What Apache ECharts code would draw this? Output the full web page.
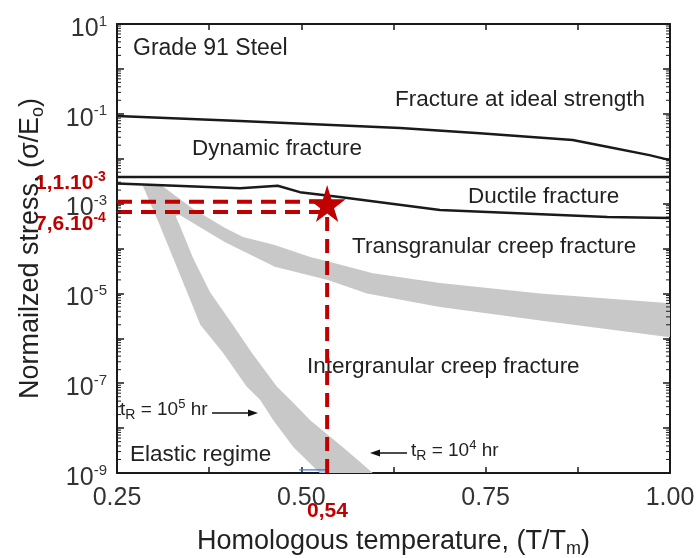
<!DOCTYPE html>
<html><head><meta charset="utf-8">
<script src="https://cdn.jsdelivr.net/npm/echarts@6/dist/echarts.min.js"></script>
<style>html,body{margin:0;padding:0;background:#fff}#c{width:699px;height:558px}</style>
</head><body><div id="c"></div>
<script>
// ---- tick labels ----
const xTickLabels = ['0.25', '0.50', '0.75', '1.00'];
const yTickExponents = [1, -1, -3, -5, -7, -9];

// ---- boundary lines (T/Tm, sigma/Eo) ----
const idealT = [0.25, 0.417, 0.634, 0.742, 0.868, 0.918, 0.972, 1.0];
const idealS = [8.9e-2, 6.9e-2, 4.8e-2, 3.7e-2, 2.6e-2, 1.8e-2, 1.2e-2, 9.3e-3];

const dynamicT = [0.25, 1.0];
const dynamicS = [3.9e-3, 3.9e-3];

const ductileT = [0.25, 0.417, 0.468, 0.498, 0.552, 0.688, 0.915, 1.0];
const ductileS = [2.8e-3, 2.2e-3, 2.5e-3, 1.8e-3, 1.4e-3, 7.2e-4, 5.0e-4, 4.8e-4];

// ---- transgranular creep band ----
const transUpperT = [0.311, 0.352, 0.396, 0.421, 0.464, 0.512, 0.539, 0.597, 0.688, 0.824, 1.0];
const transUpperS = [2.5e-3, 7.9e-4, 2.9e-4, 1.8e-4, 1.2e-4, 6.5e-5, 5.0e-5, 2.8e-5, 1.7e-5, 1.0e-5, 6.0e-6];
const transLowerT = [0.32, 0.335, 0.396, 0.464, 0.536, 0.589, 0.688, 0.824, 1.0];
const transLowerS = [5.0e-4, 5.6e-4, 1.4e-4, 3.9e-5, 2.0e-5, 1.0e-5, 5.0e-6, 2.5e-6, 1.05e-6];

// ---- intergranular creep band (tR = 1e5 hr .. 1e4 hr) ----
const interLeftT  = [0.285, 0.308, 0.326, 0.345, 0.363, 0.394, 0.426, 0.444, 0.462, 0.489, 0.525];
const interRightT = [0.311, 0.335, 0.353, 0.376, 0.407, 0.433, 0.467, 0.485, 0.512, 0.556, 0.597];
const interS      = [2.5e-3, 3.3e-4, 6.2e-5, 1.07e-5, 2.0e-6, 4.7e-7, 8.3e-8, 4.3e-8, 1.5e-8, 3.8e-9, 1.0e-9];

// ---- operating point ----
const pointT = [0.535];
const pointS = [1.0e-3];
const upperDashS = [1.1e-3, 1.1e-3];
const lowerDashS = [6.5e-4, 6.5e-4];
const dashT = [0.25, 0.535];
const vertDashT = [0.535, 0.535];
const vertDashS = [5.0e-4, 1.0e-9];
const blueT = [0.497, 0.535];
const blueS = [1.17e-9, 1.17e-9];

const FONT = 'Liberation Sans, Arial, Helvetica, sans-serif';
const RED = '#c00000';
const GREY = '#c8c8c8';
const INK = '#1a1a1a';

function zip(a, b) { return a.map((v, i) => [v, b[i]]); }

function polygonSeries(edgeA, edgeB) {
  return {
    type: 'custom', coordinateSystem: 'cartesian2d', silent: true, z: 1, clip: true,
    data: [[0.5, 1e-3]],
    renderItem: function (params, api) {
      const pts = [];
      edgeA.forEach(p => pts.push(api.coord(p)));
      edgeB.slice().reverse().forEach(p => pts.push(api.coord(p)));
      return { type: 'polygon', shape: { points: pts }, style: { fill: GREY } };
    }
  };
}

function lineSeries(data, color, width, type, z) {
  return {
    type: 'line', data: data, showSymbol: false, symbol: 'none', smooth: false, silent: true, z: z,
    lineStyle: { color: color, width: width, type: type || 'solid', cap: 'butt' }
  };
}

// log minor ticks k*10^n, drawn through the y scale on both vertical axes
const minorTickSeries = {
  type: 'custom', coordinateSystem: 'cartesian2d', silent: true, z: 6,
  data: [[0.5, 1e-3]],
  renderItem: function (params, api) {
    const children = [];
    for (let n = -9; n < 1; n++) {
      for (let k = 2; k <= 9; k++) {
        const v = k * Math.pow(10, n);
        const l = api.coord([0.25, v]);
        const r = api.coord([1.0, v]);
        children.push({ type: 'line', shape: { x1: l[0], y1: l[1], x2: l[0] + 4, y2: l[1] }, style: { stroke: INK, lineWidth: 1 } });
        children.push({ type: 'line', shape: { x1: r[0], y1: r[1], x2: r[0] - 4, y2: r[1] }, style: { stroke: INK, lineWidth: 1 } });
      }
    }
    return { type: 'group', children: children };
  }
};

const axisLineStyle = { show: true, lineStyle: { color: INK, width: 2 } };
const tickStyle = { show: true, inside: true, length: 7, lineStyle: { color: INK, width: 1.5 } };

const supRich = {
  a: { fontSize: 25, lineHeight: 30, fontFamily: FONT, color: '#333' },
  sup: { fontSize: 15, lineHeight: 15, fontFamily: FONT, color: '#333', verticalAlign: 'top' }
};

const nameRich = {
  a: { fontSize: 27, lineHeight: 32, fontFamily: FONT, color: '#222' },
  sub: { fontSize: 18, lineHeight: 18, fontFamily: FONT, color: '#222', verticalAlign: 'bottom' }
};

const smallRich = {
  a: { fontSize: 19, lineHeight: 24, fontFamily: FONT, fill: '#222' },
  sub: { fontSize: 14, lineHeight: 14, fontFamily: FONT, fill: '#222', verticalAlign: 'bottom' },
  sup: { fontSize: 13, lineHeight: 13, fontFamily: FONT, fill: '#222', verticalAlign: 'top' }
};

const redRich = {
  a: { fontSize: 21, lineHeight: 26, fontFamily: FONT, fontWeight: 'bold', fill: RED },
  sup: { fontSize: 14, lineHeight: 14, fontFamily: FONT, fontWeight: 'bold', fill: RED, verticalAlign: 'top' }
};

const chart = echarts.init(document.getElementById('c'));
chart.setOption({
  animation: false,
  backgroundColor: '#fff',
  grid: { left: 117, right: 29, top: 24, bottom: 85, containLabel: false, outerBoundsMode: 'none' },
  xAxis: [{
    type: 'value', min: 0.25, max: 1.0, interval: 0.125, position: 'bottom',
    axisLine: axisLineStyle, axisTick: Object.assign({}, tickStyle, { length: 6 }), splitLine: { show: false },
    axisLabel: {
      margin: 13, fontSize: 25, color: '#333', fontFamily: FONT,
      formatter: v => { const s = v.toFixed(2); return xTickLabels.includes(s) ? s : ''; }
    },
    name: '{a|Homologous temperature, (T/T}{sub|m}{a|)}',
    nameLocation: 'middle', nameGap: 53,
    nameTextStyle: { rich: nameRich }
  }, {
    type: 'value', min: 0.25, max: 1.0, interval: 0.125, position: 'top',
    axisLine: axisLineStyle, axisTick: Object.assign({}, tickStyle, { length: 6 }), splitLine: { show: false },
    axisLabel: { show: false }
  }],
  yAxis: [{
    type: 'log', logBase: 10, min: 1e-9, max: 10, interval: 1, position: 'left',
    axisLine: axisLineStyle, axisTick: tickStyle, splitLine: { show: false },
    axisLabel: {
      margin: 10, fontFamily: FONT, padding: [10, 0, 0, 0],
      formatter: v => {
        const e = Math.round(Math.log10(v));
        return yTickExponents.includes(e) ? '{a|10}{sup|' + e + '}' : '';
      },
      rich: supRich
    },
    name: '{a|Normailzed stress, (σ/E}{sub|o}{a|)}',
    nameLocation: 'middle', nameGap: 70, nameRotate: 90,
    nameTextStyle: { rich: nameRich }
  }, {
    type: 'log', logBase: 10, min: 1e-9, max: 10, interval: 1, position: 'right',
    axisLine: axisLineStyle, axisTick: tickStyle, splitLine: { show: false },
    axisLabel: { show: false }
  }],
  series: [
    polygonSeries(zip(transUpperT, transUpperS), zip(transLowerT, transLowerS)),
    polygonSeries(zip(interLeftT, interS), zip(interRightT, interS)),
    lineSeries(zip(idealT, idealS), INK, 2.5, 'solid', 3),
    lineSeries(zip(dynamicT, dynamicS), INK, 2.5, 'solid', 3),
    lineSeries(zip(ductileT, ductileS), INK, 2.5, 'solid', 3),
    lineSeries(zip(blueT, blueS), '#3b7dd8', 1.2, 'solid', 3),
    lineSeries(zip(dashT, upperDashS), RED, 4, [15, 9], 4),
    lineSeries(zip(dashT, lowerDashS), RED, 4, [15, 9], 4),
    lineSeries(zip(vertDashT, vertDashS), RED, 4, [14, 8], 4),
    {
      type: 'scatter', data: zip(pointT, pointS), z: 5, silent: true,
      symbol: 'path://M50,0 L61,35 L98,35 L68,57 L79,91 L50,70 L21,91 L32,57 L2,35 L39,35 Z',
      symbolSize: [37, 37], symbolKeepAspect: false,
      itemStyle: { color: RED, opacity: 1 }
    },
    minorTickSeries
  ],
  graphic: [
    { type: 'text', left: 133, top: 37, style: { text: 'Grade 91 Steel', font: '23px ' + FONT, fill: '#222' } },
    { type: 'text', left: 395, top: 88, style: { text: 'Fracture at ideal strength', font: '22.5px ' + FONT, fill: '#222' } },
    { type: 'text', left: 192, top: 137, style: { text: 'Dynamic fracture', font: '22.5px ' + FONT, fill: '#222' } },
    { type: 'text', left: 468, top: 185, style: { text: 'Ductile fracture', font: '22.5px ' + FONT, fill: '#222' } },
    { type: 'text', left: 352, top: 235, style: { text: 'Transgranular creep fracture', font: '22.5px ' + FONT, fill: '#222' } },
    { type: 'text', left: 307, top: 355, style: { text: 'Intergranular creep fracture', font: '22.5px ' + FONT, fill: '#222' } },
    { type: 'text', left: 130, top: 443, style: { text: 'Elastic regime', font: '22.5px ' + FONT, fill: '#222' } },
    { type: 'text', left: 120, top: 398, style: { text: '{a|t}{sub|R}{a| = 10}{sup|5}{a| hr}', rich: smallRich } },
    { type: 'line', shape: { x1: 212, y1: 413, x2: 250, y2: 413 }, style: { stroke: '#111', lineWidth: 1.5 } },
    { type: 'polygon', shape: { points: [[258, 413], [248, 409.5], [248, 416.5]] }, style: { fill: '#111' } },
    { type: 'line', shape: { x1: 378, y1: 453, x2: 407, y2: 453 }, style: { stroke: '#111', lineWidth: 1.5 } },
    { type: 'polygon', shape: { points: [[370, 453], [380, 449.5], [380, 456.5]] }, style: { fill: '#111' } },
    { type: 'text', left: 411, top: 439, style: { text: '{a|t}{sub|R}{a| = 10}{sup|4}{a| hr}', rich: smallRich } },
    { type: 'text', left: 35, top: 170, style: { text: '{a|1,1.10}{sup|-3}', rich: redRich } },
    { type: 'text', left: 35, top: 211, style: { text: '{a|7,6.10}{sup|-4}', rich: redRich } },
    { type: 'text', left: 307, top: 501, style: { text: '0,54', font: 'bold 21px ' + FONT, fill: RED } }
  ]
});
</script></body></html>
